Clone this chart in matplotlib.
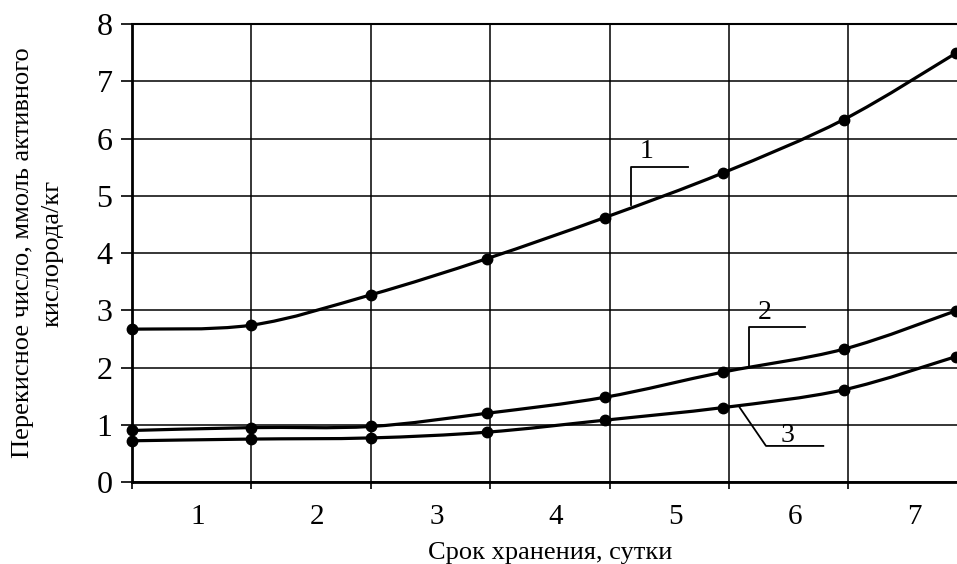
import matplotlib.pyplot as plt
from matplotlib.path import Path
from matplotlib.patches import PathPatch
import numpy as np

plt.rcParams['font.family'] = ['Liberation Serif', 'DejaVu Serif']

days = [0, 1, 2, 2.97, 3.96, 4.95, 5.96, 6.9]
curve1 = [2.67, 2.74, 3.27, 3.90, 4.62, 5.40, 6.33, 7.49]
curve2 = [0.90, 0.95, 0.97, 1.20, 1.48, 1.92, 2.32, 2.99]
curve3 = [0.72, 0.75, 0.77, 0.87, 1.08, 1.30, 1.61, 2.19]
x_labels = ['1', '2', '3', '4', '5', '6', '7']
y_ticks = [0, 1, 2, 3, 4, 5, 6, 7, 8]


def smooth_path(x, y):
    # Catmull-Rom through the points, as cubic Bezier segments
    x = np.asarray(x, float)
    y = np.asarray(y, float)
    verts = [(x[0], y[0])]
    codes = [Path.MOVETO]
    n = len(x)
    for i in range(n - 1):
        p0 = np.array([x[max(i - 1, 0)], y[max(i - 1, 0)]])
        p1 = np.array([x[i], y[i]])
        p2 = np.array([x[i + 1], y[i + 1]])
        p3 = np.array([x[min(i + 2, n - 1)], y[min(i + 2, n - 1)]])
        c1 = p1 + (p2 - p0) / 6
        c2 = p2 - (p3 - p1) / 6
        verts += [tuple(c1), tuple(c2), tuple(p2)]
        codes += [Path.CURVE4] * 3
    return Path(verts, codes)


fig = plt.figure(figsize=(9.57, 5.64), dpi=100)
ax = fig.add_axes([0.138, 0.1454, 0.862, 0.812])

for ys in (curve1, curve2, curve3):
    ax.add_patch(PathPatch(smooth_path(days, ys), fill=False, lw=2.3,
                           color='black', zorder=3, clip_on=False))
    ax.plot(days, ys, 'o', color='black', ms=7.5, zorder=4, clip_on=False)

ax.set_xlim(0, 6.91)
ax.set_ylim(0, 8)
ax.set_xticks(range(7))
ax.set_xticklabels([])
ax.set_xticks(np.arange(1, 8) - 0.45, minor=True)
ax.set_xticklabels(x_labels, minor=True, fontsize=21)
ax.tick_params(axis='x', which='minor', length=0, pad=16)
ax.tick_params(axis='x', which='major', length=5, width=1.2, direction='out')
ax.set_yticks(y_ticks)
ax.set_yticklabels([str(v) for v in y_ticks], fontsize=23)
ax.tick_params(axis='y', length=8, width=1.2, pad=6)
ax.grid(True, which='major', color='black', lw=1.1)
ax.set_axisbelow(True)

for side in ('left', 'bottom'):
    ax.spines[side].set_linewidth(2)
ax.spines['top'].set_linewidth(1.5)
ax.spines['right'].set_visible(False)

# callouts
ax.plot([4.18, 4.18, 4.66], [4.84, 5.50, 5.50], color='black', lw=1.3)
ax.text(4.31, 5.55, '1', fontsize=20, ha='center', va='bottom')
ax.plot([5.17, 5.17, 5.64], [2.01, 2.70, 2.70], color='black', lw=1.3)
ax.text(5.30, 2.75, '2', fontsize=20, ha='center', va='bottom')
ax.plot([5.09, 5.31, 5.79], [1.30, 0.63, 0.63], color='black', lw=1.3)
ax.text(5.49, 0.60, '3', fontsize=20, ha='center', va='bottom')

ax.set_xlabel('Срок хранения, сутки', fontsize=19, labelpad=8)
ax.xaxis.set_label_coords(0.507, -0.13, transform=ax.transAxes)
ax.xaxis.label.set_va('top')
ax.set_ylabel('Перекисное число, ммоль активного\nкислорода/кг', fontsize=19,
              labelpad=24, linespacing=1.4)

fig.savefig('out.png', dpi=100)
